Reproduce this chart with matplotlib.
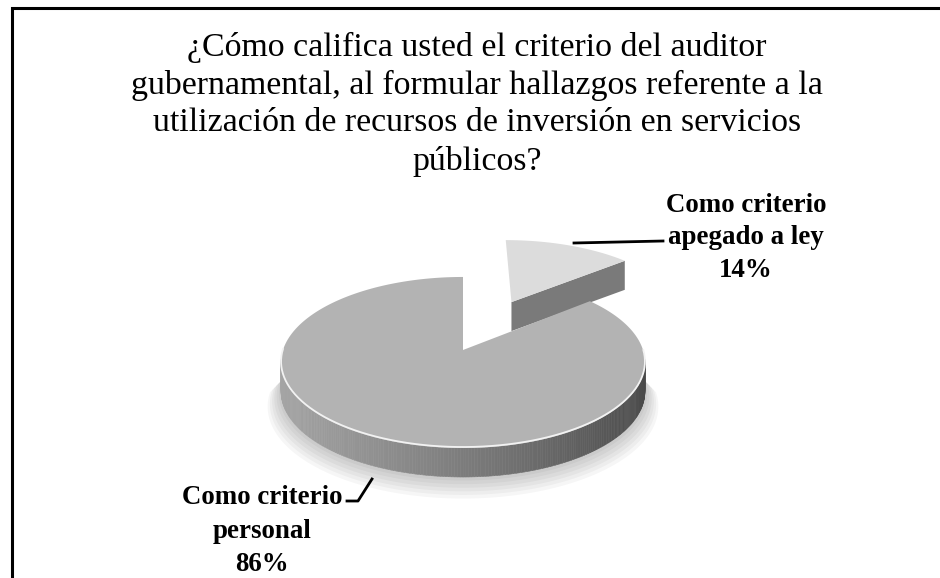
import numpy as np
import matplotlib.pyplot as plt
from matplotlib.patches import Polygon

# data
labels = ['Como criterio\napegado a ley', 'Como criterio\npersonal']
values = [14, 86]
explode = [0.69, 0.0]
top_colors = ['#dcdcdc', '#b3b3b3']

title = ('¿Cómo califica usted el criterio del auditor\n'
         'gubernamental, al formular hallazgos referente a la\n'
         'utilización de recursos de inversión en servicios\n'
         'públicos?')

# pie geometry in pixels (simple perspective)
cx, cy = 463, 350
a, b, p = 180, 83.7, 0.146
h = 29


def proj(u, v):
    d = 1 + p * v
    return cx + a * u / d, cy - b * v / d


def lerp_gray(c1, c2, t):
    return tuple((c1 + (c2 - c1) * t) / 255.0 for _ in range(3))


fig = plt.figure(figsize=(9.4, 5.78), dpi=100)
ax = fig.add_axes([0, 0, 1, 1])
ax.set_xlim(0, 940)
ax.set_ylim(578, 0)
ax.axis('off')

# frame (left + top only visible in crop)
ax.plot([12, 12, 940], [578, 8, 8], color='black', lw=2.2, solid_joinstyle='miter')

total = sum(values)
start = 90.0
slices = []
for val, ex in zip(values, explode):
    sweep = 360.0 * val / total
    t2 = np.radians(start)
    t1 = np.radians(start - sweep)
    mid = (t1 + t2) / 2
    slices.append((t1, t2, ex * np.cos(mid), ex * np.sin(mid)))
    start -= sweep

# soft shadow under the front of the pie
thf = np.linspace(np.pi, 2 * np.pi, 200)
bx, by = proj(np.cos(thf), np.sin(thf))
for k in range(1, 7):
    s = 1.0 + 0.012 * k
    sx, sy = proj(s * np.cos(thf), s * np.sin(thf))
    xs = np.concatenate([bx, sx[::-1]])
    ys = np.concatenate([by + h, sy[::-1] + h + 2.2 * k])
    ax.fill(xs, ys, color='#000000', alpha=0.035, lw=0, zorder=1)

for i, (t1, t2, ou, ov) in enumerate(slices):
    z = 2 + i * 3
    # cut faces
    for edge, normal in ((t1, t1 - np.pi / 2), (t2, t2 + np.pi / 2)):
        if np.sin(normal) < -0.05:
            x0, y0 = proj(ou, ov)
            x1, y1 = proj(ou + np.cos(edge), ov + np.sin(edge))
            ax.add_patch(Polygon([(x0, y0), (x1, y1), (x1, y1 + h), (x0, y0 + h)],
                                 closed=True, fc='#7a7a7a', ec='none', zorder=z))
    # outer wall, front part only
    th = np.linspace(t1, t2, 400)
    for j in range(len(th) - 1):
        tm = (th[j] + th[j + 1]) / 2
        if np.sin(tm) >= 0:
            continue
        xa, ya = proj(ou + np.cos(th[j]), ov + np.sin(th[j]))
        xb, yb = proj(ou + np.cos(th[j + 1]), ov + np.sin(th[j + 1]))
        t = (np.cos(tm) + 1) / 2
        col = lerp_gray(165, 72, t ** 1.2)
        ax.add_patch(Polygon([(xa, ya), (xb, yb), (xb, yb + h), (xa, ya + h)],
                             closed=True, fc=col, ec=col, lw=0.4, zorder=z + 0.5))
    # top face
    arc_u = ou + np.cos(th)
    arc_v = ov + np.sin(th)
    xs, ys = proj(np.concatenate([[ou], arc_u]), np.concatenate([[ov], arc_v]))
    ax.add_patch(Polygon(np.column_stack([xs, ys]), closed=True,
                         fc=top_colors[i], ec='none', zorder=z + 1))
    # bevel highlight on front rim
    front = np.sin(th) < 0
    if front.any():
        fx, fy = proj(arc_u[front], arc_v[front])
        ax.plot(fx, fy - 1, color='#f2f2f2', lw=1.3, zorder=z + 1.5)

# title
ax.text(477, 104, title, ha='center', va='center', fontsize=24.4,
        family='Liberation Serif', linespacing=1.3)

# data labels
pct = [f'{round(v * 100 / total)}%' for v in values]
ax.text(746, 238, f'{labels[0]}\n{pct[0]}', ha='center', va='center',
        fontsize=19.4, fontweight='bold', family='Liberation Serif', linespacing=1.42)
ax.text(262, 531, f'{labels[1]}\n{pct[1]}', ha='center', va='center',
        fontsize=19.4, fontweight='bold', family='Liberation Serif', linespacing=1.46)

# leader lines
ax.plot([574, 663], [243, 241], color='black', lw=2, zorder=20)
ax.plot([347, 358, 372], [501, 501, 479], color='black', lw=2, zorder=20)

fig.savefig('out.png', dpi=100, facecolor='white')
